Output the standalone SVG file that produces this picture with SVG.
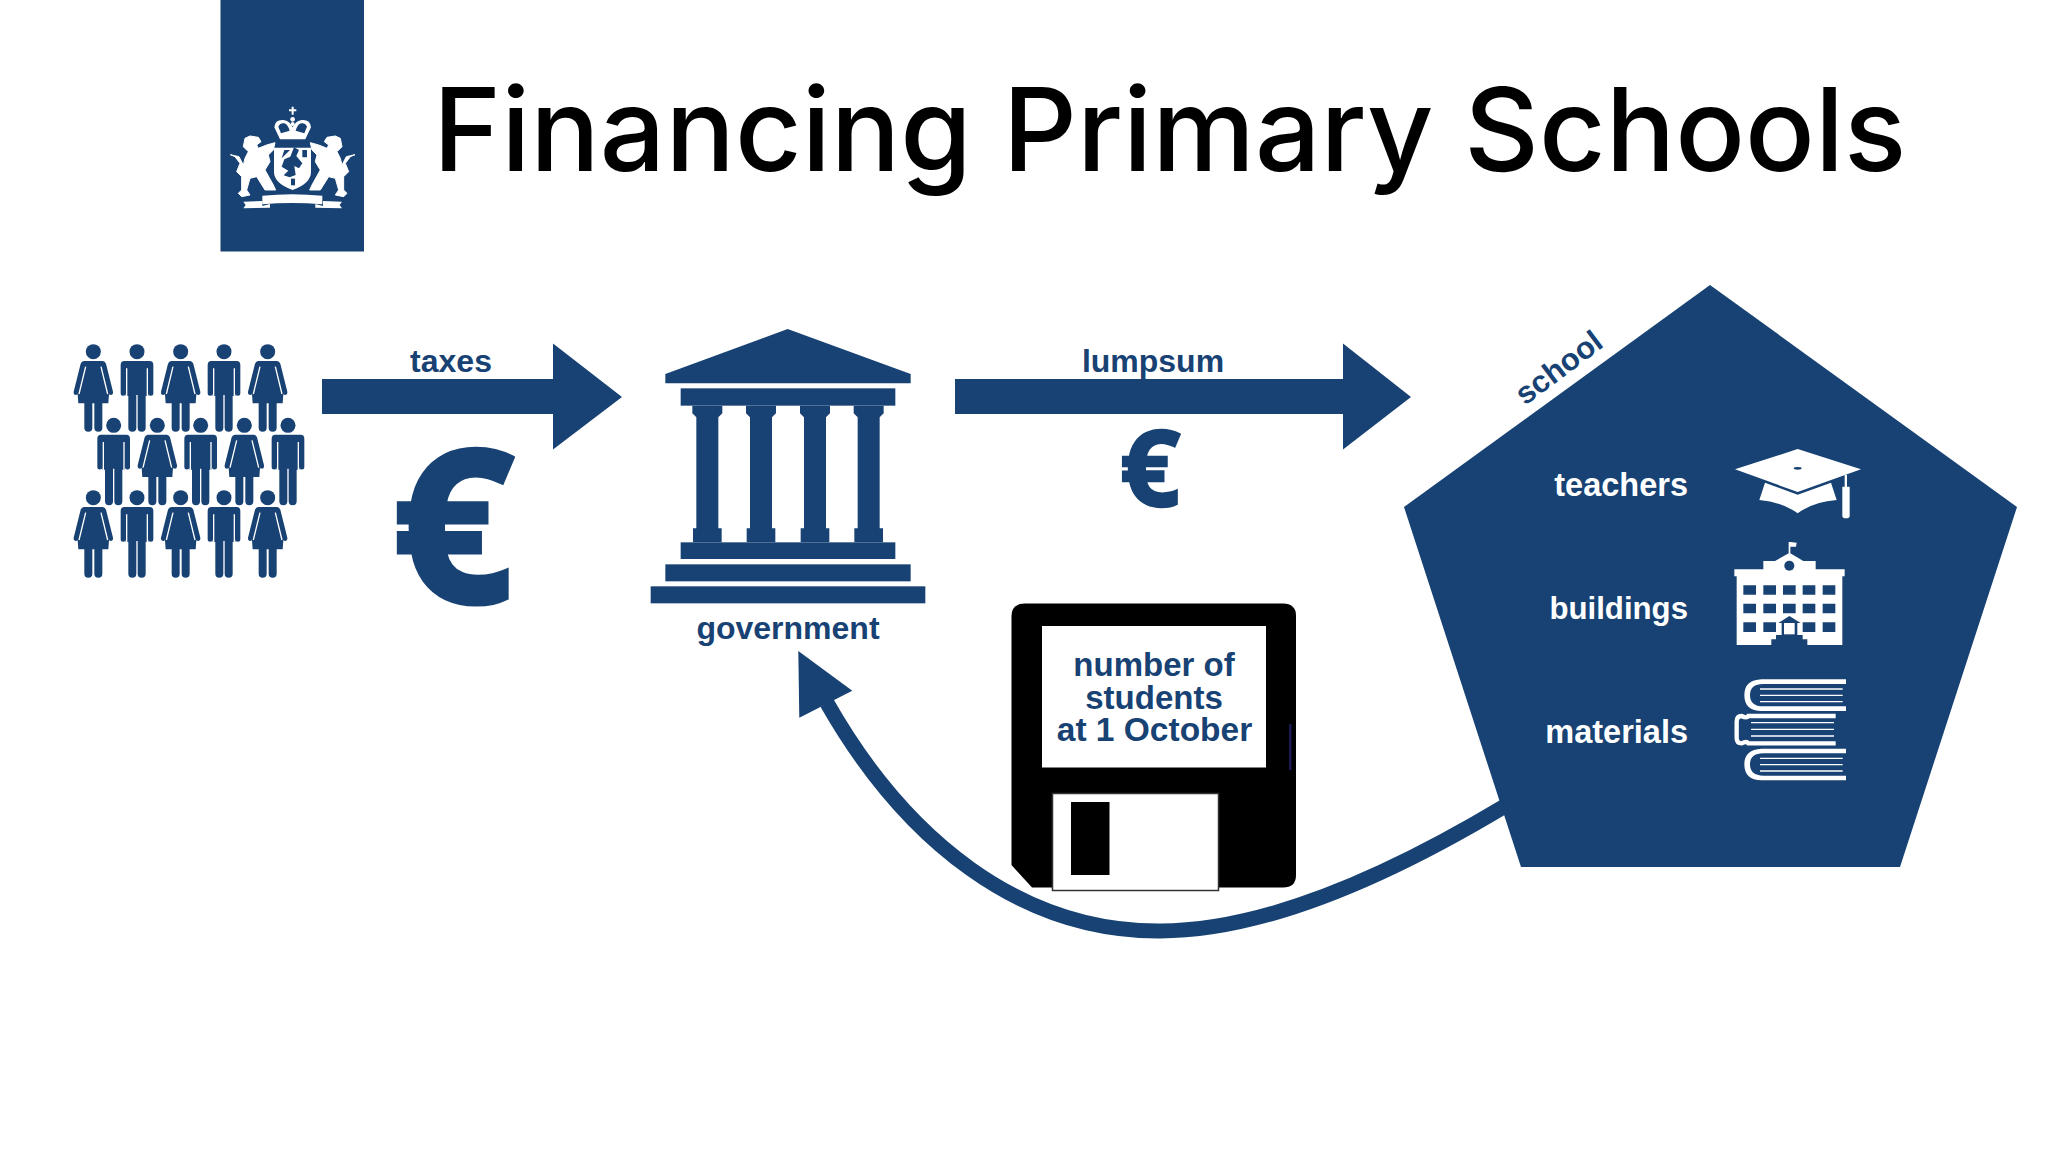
<svg xmlns="http://www.w3.org/2000/svg" xmlns:xlink="http://www.w3.org/1999/xlink" width="2048" height="1152" viewBox="0 0 2048 1152">
<style>
.b{fill:#174273}
.w{fill:#fff}
.k{fill:#000}
.t{font-family:"Liberation Sans",Arial,sans-serif;font-weight:bold;fill:#174273}
.tw{font-family:"Liberation Sans",Arial,sans-serif;font-weight:bold;fill:#fff;text-anchor:end;font-size:32.5px}
.c{text-anchor:middle}
.e{font-family:"Open Sans",sans-serif;font-weight:bold;fill:#174273;stroke:#174273;text-anchor:middle}
.gap{stroke:#fff;stroke-width:4;fill:none}
</style>
<defs>
<g id="woman">
<path class="b" d="M-28,28H28Q35,28 38,36L59,120Q60,130 52,130L47,128L45,155H27V228A12,12 0 0 1 3,228V155H-3V228A12,12 0 0 1 -27,228V155H-45L-47,128L-52,130Q-60,130 -59,120L-38,36Q-35,28 -28,28Z"/>
<circle class="b" r="22.5"/>
<path class="gap" d="M23,45L43,127M-23,45L-43,127"/>
</g>
<g id="man">
<path class="b" d="M-38,28H38Q49,28 49,40V125A7.5,7.5 0 0 1 34,125V133H26V228A12,12 0 0 1 2,228V130H-2V228A12,12 0 0 1 -26,228V133H-34V125A7.5,7.5 0 0 1 -49,125V40Q-49,28 -38,28Z"/>
<circle class="b" r="22.5"/>
<path class="gap" d="M31,50V136M-31,50V136" stroke-width="3"/>
</g>
<path id="column" class="b" d="M-45,287H45V310L33,322V655H43V697H-43V655H-33V322L-45,310Z"/>
<g id="lion">
<path class="w" stroke="#fff" stroke-width="3" stroke-linejoin="round" d="M60,115L75,108L100,112L108,125L95,135L100,145L125,135L150,128L145,150L130,165L135,185L120,210L145,255L152,270L120,270L95,230L75,235L65,270L75,285L50,290L40,280L50,270L50,230L35,215L45,190L30,170L16,164L42,170L55,195L60,175L70,155L55,140Z"/>
<path class="w" d="M55,305L112,303L112,318L135,312V323L55,325L62,315Z"/>
</g>
<g id="book">
<path class="w" d="M438,58H185Q133,60 133,105Q133,153 185,153H438V139H190Q150,139 150,105Q150,72 190,72H438Z"/>
<path class="w" d="M180,85H428V89H180ZM180,104H428V108H180ZM180,123H428V127H180Z"/>
</g>
</defs>
<rect width="2048" height="1152" class="w"/>
<g id="logo">
<rect x="220.500" y="0" width="143.500" height="251.500" class="b"/>
<g transform="translate(225,100) scale(.3333)">
<use href="#lion"/>
<use href="#lion" transform="translate(406,0) scale(-1,1)"/>
<path class="w" d="M200,20H206V28H214V34H206V44H200V34H192V28H200Z"/>
<circle class="w" cx="203" cy="58" r="7"/><circle class="w" cx="203" cy="72" r="6"/>
<path class="w" d="M165,118L148,82Q150,58 175,60Q195,63 203,82Q211,63 231,60Q256,58 258,82L241,118Z"/>
<path class="b" d="M160,80Q165,68 178,70Q188,73 194,92L168,100ZM246,80Q241,68 228,70Q218,73 212,92L238,100Z"/>
<path class="w" d="M147,143H258V215Q258,250 203,270Q147,250 147,215Z"/>
<path class="b" d="M178,150L195,150L170,175ZM232,150H246V172H232ZM207,142L222,150L214,168L232,190L222,205L208,198L212,225L194,232L176,226L190,212L170,200L178,178L196,170Z"/>
<path class="b" d="M198,236H210V256H198Z"/>
<path class="w" d="M112,287Q200,278 292,287V313Q200,305 112,313Z"/>
</g>
</g>
<text id="title" x="433" y="171" font-family="Inter,Liberation Sans,Arial,sans-serif" font-weight="500" font-size="115.600" fill="#000">Financing Primary Schools</text>
<g id="people" transform="translate(60,330) scale(.33333)">
<use href="#woman" x="100" y="65"/><use href="#man" x="231" y="65"/><use href="#woman" x="362" y="65"/><use href="#man" x="492" y="65"/><use href="#woman" x="623" y="65"/>
<use href="#man" x="161" y="286"/><use href="#woman" x="292" y="286"/><use href="#man" x="422" y="286"/><use href="#woman" x="553" y="286"/><use href="#man" x="684" y="286"/>
<use href="#woman" x="100" y="503"/><use href="#man" x="231" y="503"/><use href="#woman" x="362" y="503"/><use href="#man" x="492" y="503"/><use href="#woman" x="623" y="503"/>
</g>
<g id="government">
<g transform="translate(630,310) scale(.33333)">
<path class="b" d="M473,57L842,192V220H106V192Z"/>
<rect class="b" x="152" y="235" width="644" height="52"/>
<use href="#column" x="232"/><use href="#column" x="393"/><use href="#column" x="555"/><use href="#column" x="716"/>
<rect class="b" x="152" y="697" width="644" height="50"/>
<rect class="b" x="106" y="763" width="736" height="51"/>
<rect class="b" x="62" y="829" width="824" height="51"/>
</g>
<text class="t c" x="788" y="639" font-size="32">government</text>
</g>
<g id="floppy">
<path class="k" d="M1025,603.500H1283Q1296,603.500 1296,616V875Q1296,887.500 1283,887.500H1032L1011.500,865V616Q1011.500,603.500 1025,603.500Z"/>
<rect class="w" x="1042" y="626" width="224" height="141.500"/>
<rect class="w" x="1052.500" y="793.500" width="166" height="97" stroke="#333" stroke-width="1.500"/>
<rect class="k" x="1071" y="802" width="38.500" height="73"/>
<rect x="1289" y="724" width="2.500" height="46" fill="#1a1a55"/>
<text class="t c" x="1154" y="676" font-size="33">number of</text>
<text class="t c" x="1154" y="709" font-size="33">students</text>
<text class="t c" x="1154.500" y="741" font-size="33.500">at 1 October</text>
</g>
<g id="school">
<path class="b" d="M1710,285L2017,507L1900,867H1521L1404,507Z"/>
<text class="t c" transform="translate(1565,376) rotate(-37)" font-size="31">school</text>
<text class="tw" x="1688" y="496">teachers</text>
<text class="tw" x="1688" y="619" style="font-size:31.200px">buildings</text>
<text class="tw" x="1688" y="743">materials</text>
<g id="cap" transform="translate(1700,430) scale(.33333)">
<path class="w" d="M293,57L483,118L293,186L105,118Z"/>
<ellipse class="b" cx="293" cy="115" rx="12" ry="4"/>
<path class="w" d="M195,158L293,194L393,158L410,210Q340,215 293,250Q245,215 178,210Z"/>
<path class="w" d="M434,135H441V170H449V258Q449,265 438,265Q427,265 427,258V170H434Z"/>
</g>
<g id="building" transform="translate(1700,530) scale(.33333)">
<path class="w" d="M266,36H271L290,38L288,50L271,50V70L310,93H347V118H434V139H427V345H110V139H103V118H190V93H225L266,70Z"/>
<circle class="b" cx="268" cy="107" r="15"/>
<path class="b" d="M130,166h38v28h-38zM190,166h38v28h-38zM249,166h38v28h-38zM308,166h38v28h-38zM368,166h38v28h-38zM130,221h38v29h-38zM190,221h38v29h-38zM249,221h38v29h-38zM308,221h38v29h-38zM368,221h38v29h-38zM130,277h38v29h-38zM190,277h38v29h-38zM308,277h38v29h-38zM368,277h38v29h-38z"/>
<path class="b" d="M235,279L268,258L302,279H292V315H308V328H322V345H214V328H228V315H245V279Z"/>
<rect class="w" x="252" y="279" width="32" height="34"/>
</g>
<g id="books" transform="translate(1700,660) scale(.33333)">
<use href="#book"/>
<use href="#book" y="208"/>
<path d="M407,168H145Q140,176 125,168Q110,168 110,185V235Q110,250 125,250Q140,242 145,250H407" fill="none" stroke="#fff" stroke-width="13"/>
<path class="w" d="M153,186H402V190H153ZM153,206H402V210H153ZM153,226H402V230H153Z"/>
</g>
</g>
<g id="connectors">
<path class="b" d="M322,379H553V343.500L622,397L553,449.500V414H322Z"/>
<text class="t c" x="451" y="372" font-size="32">taxes</text>
<text class="e" x="453" y="602" font-size="212" stroke-width="5">€</text>
<path class="b" d="M955,379H1343V343.500L1411,397L1343,449.500V414H955Z"/>
<text class="t c" x="1153" y="372" font-size="32">lumpsum</text>
<text class="e" x="1150" y="506" font-size="106" stroke-width="2.500">€</text>
<path d="M1505,806C1440,845 1290,931 1160,931C1020,932 905,840 827,703" fill="none" stroke="#174273" stroke-width="15"/>
<path class="b" d="M798.300,651L852.300,690.700L799.300,717.700Z"/>
</g>
</svg>
